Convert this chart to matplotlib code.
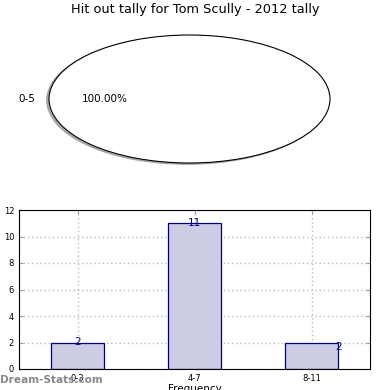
import matplotlib
matplotlib.use('Agg')
import matplotlib.pyplot as plt

# pie data
pie_labels = ['0-5']
pie_values = [1]

# bar data
bar_labels = ['0-3', '4-7', '8-11']
bar_values = [2, 11, 2]

fig = plt.figure(figsize=(3.9, 3.9), dpi=100)

fig.text(0.5, 1 - 10 / 390, 'Hit out tally for Tom Scully - 2012 tally',
         ha='center', va='center', fontsize=9.3)

ax1 = fig.add_axes([49 / 390, 1 - 163 / 390, 281 / 390, 128 / 390])
ax1.pie(pie_values, labels=pie_labels, autopct='%1.2f%%',
        shadow={'ox': -0.012, 'oy': -0.015, 'shade': 0.5, 'alpha': 0.6},
        colors=['white'], wedgeprops={'edgecolor': 'black', 'linewidth': 0.8},
        textprops={'fontsize': 7.5})
ax1.set_aspect('auto')
ax1.set_xlim(-1, 1)
ax1.set_ylim(-1, 1)
ax1.axis('off')

ax2 = fig.add_axes([19 / 390, 1 - 369 / 390, 351 / 390, 159 / 390])
xs = range(len(bar_values))
ax2.bar(xs, bar_values, width=0.45, color='#cccce5', edgecolor='#000080',
        linewidth=0.9, zorder=2)
for i, v in enumerate(bar_values):
    if i == len(bar_values) - 1:
        ax2.text(i + 0.2, v, str(v), ha='left', va='top', fontsize=7.5,
                 color='#000080', zorder=3)
    else:
        ax2.text(i, v - 0.35, str(v), ha='center', va='bottom', fontsize=7.5,
                 color='#000080', zorder=3)
ax2.set_xlim(-0.5, 2.5)
ax2.set_ylim(0, 12)
ax2.set_yticks(range(0, 13, 2))
ax2.set_xticks(list(xs))
ax2.set_xticklabels(bar_labels)
ax2.tick_params(labelsize=6, length=3, direction='in', top=True, right=True,
                color='#999999')
ax2.grid(True, linestyle=(0, (1, 2)), color='#bbbbbb', linewidth=1.0, zorder=0)
ax2.set_xlabel('Frequency', fontsize=7.5, labelpad=1)
ax2.set_ylabel('Number of Games', fontsize=7.5)

fig.text(0.0, 1 - 380 / 390, 'Dream-Stats.com', ha='left', va='center',
         fontsize=7.6, fontweight='bold', color='#888888')

fig.savefig('out.png', dpi=100)
